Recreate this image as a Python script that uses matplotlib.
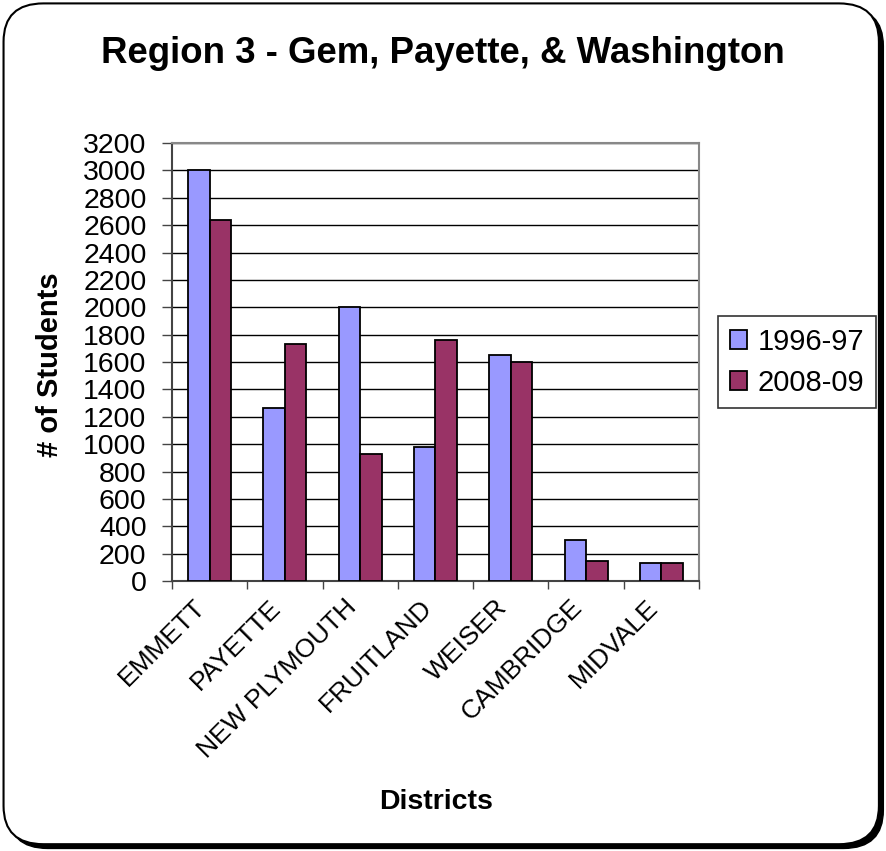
import matplotlib
matplotlib.use("Agg")
import matplotlib.pyplot as plt
import matplotlib.transforms as mtransforms
import numpy as np
from matplotlib.patches import FancyBboxPatch

plt.rcParams['font.family'] = ['Liberation Sans', 'DejaVu Sans']

districts = ["EMMETT", "PAYETTE", "NEW PLYMOUTH", "FRUITLAND", "WEISER", "CAMBRIDGE", "MIDVALE"]
students_1996 = [3000, 1263, 2000, 980, 1653, 298, 132]
students_2008 = [2635, 1734, 927, 1758, 1602, 149, 132]
series_labels = ["1996-97", "2008-09"]
y_ticks = list(range(0, 3201, 200))

fig = plt.figure(figsize=(8.86, 8.51), dpi=100)

# rounded frame with drop shadow
shadow = FancyBboxPatch((0.009, 0.003), 0.988, 0.988, boxstyle="round,pad=0,rounding_size=0.045",
                        transform=fig.transFigure, facecolor="black", edgecolor="black", lw=1, zorder=0)
frame = FancyBboxPatch((0.004, 0.008), 0.988, 0.988, boxstyle="round,pad=0,rounding_size=0.045",
                       transform=fig.transFigure, facecolor="white", edgecolor="black", lw=1.5, zorder=1)
fig.patches.extend([shadow, frame])

ax = fig.add_axes([0.194, 0.317, 0.595, 0.515])
ax.set_zorder(2)
ax.patch.set_alpha(0)

x = np.arange(len(districts))
w = 1 / 3.5
ax.bar(x - w / 2, students_1996, w, color="#9999FF", edgecolor="black", lw=1.3, label=series_labels[0], zorder=3)
ax.bar(x + w / 2, students_2008, w, color="#993366", edgecolor="black", lw=1.3, label=series_labels[1], zorder=3)

ax.set_xlim(-0.5, len(districts) - 0.5)
ax.set_ylim(0, 3200)
ax.set_yticks(y_ticks)
ax.yaxis.grid(True, color="black", lw=1, zorder=0)
ax.set_axisbelow(True)
ax.tick_params(axis="y", labelsize=20.5, length=7.2, width=1, color="#444444", pad=11)

ax.set_xticks(x)
ax.set_xticklabels(districts, rotation=45, ha="right", rotation_mode="anchor", fontsize=19)
ax.set_xticks(np.arange(-0.5, len(districts)), minor=True)
ax.tick_params(axis="x", which="major", length=0, pad=10)
ax.tick_params(axis="x", which="minor", length=6, width=1, color="#444444")
# nudge the slanted category labels so they end just left of each category centre
shift = mtransforms.ScaledTranslation(-16 / 100, 0, fig.dpi_scale_trans)
for lbl in ax.get_xticklabels():
    lbl.set_transform(lbl.get_transform() + shift)

for side in ["top", "right"]:
    ax.spines[side].set_color("#888888")
    ax.spines[side].set_linewidth(1.5)
for side in ["left", "bottom"]:
    ax.spines[side].set_color("#444444")
    ax.spines[side].set_linewidth(1.5)

fig.text(50 / 886, 1 - 365 / 851, "# of Students", rotation=90, ha="center", va="center",
         fontsize=21, fontweight="bold")
fig.text(436 / 886, 1 - 802 / 851, "Districts", ha="center", va="center",
         fontsize=20.5, fontweight="bold")
fig.text(0.5, 0.937, "Region 3 - Gem, Payette, & Washington", ha="center", va="center",
         fontsize=26.4, fontweight="bold", zorder=5)

leg = ax.legend(loc="center left", bbox_to_anchor=(1.036, 0.5), fontsize=21, frameon=True,
                fancybox=False, edgecolor="black", handlelength=0.6, handleheight=0.6,
                handletextpad=0.35, borderpad=0.4, labelspacing=0.45, borderaxespad=0)
leg.get_frame().set_linewidth(1.2)

fig.savefig("out.png", dpi=100)
